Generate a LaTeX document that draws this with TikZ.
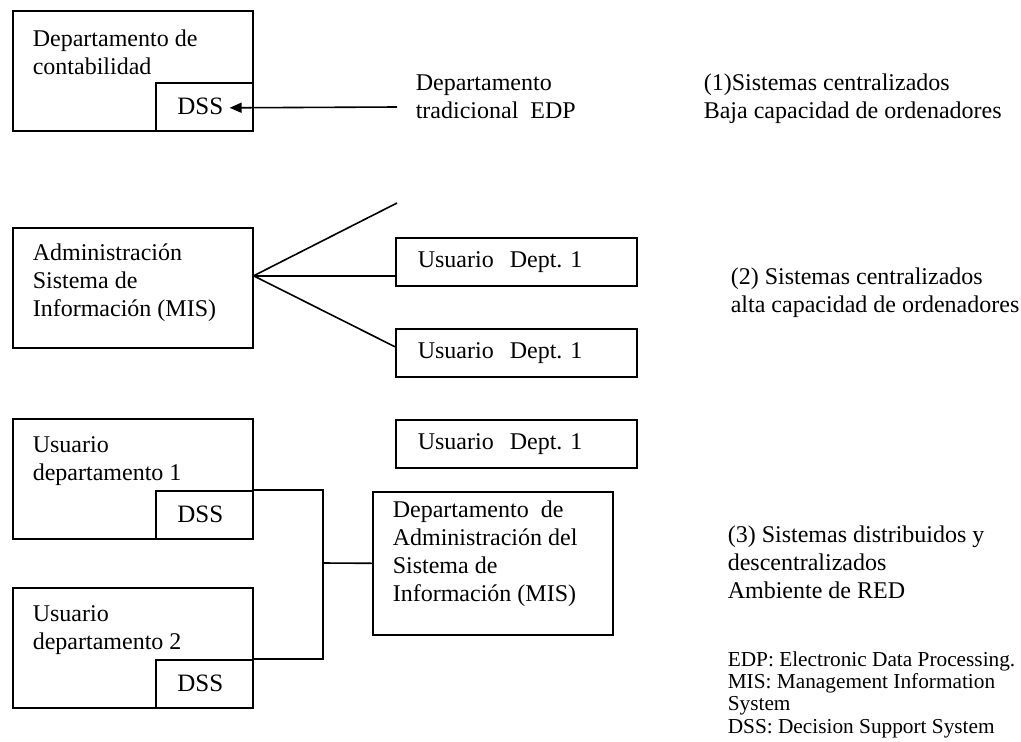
\documentclass[tikz,border=0pt]{standalone}
\usepackage{fontspec}
\setmainfont{Liberation Serif}
\usetikzlibrary{arrows.meta}
\frenchspacing
\begin{document}
\begin{tikzpicture}[x=1pt,y=-1pt,
  line width=1.6pt,
  every node/.style={inner sep=0pt},
  frame/.style={draw, minimum width=240pt, minimum height=120pt, anchor=north west},
  dssbox/.style={draw, minimum width=97pt, minimum height=48pt, anchor=north west,
    font=\fontsize{25}{28}\selectfont},
  ubox/.style={draw, anchor=north west, inner xsep=22pt, text width=197pt,
    minimum height=48pt, align=left, font=\fontsize{24}{28}\selectfont},
  % multi-line texts are placed by the baseline of their last line
  txt/.style={anchor=base west, align=left, font=\fontsize{24}{28}\selectfont},
  note/.style={anchor=base west, align=left, font=\fontsize{21.3}{22.3}\selectfont},
  tip/.style={-{Triangle[length=12pt,width=10pt]}}
]
\useasboundingbox (0,0) rectangle (1021,742);

% (1) centralised, low capacity
\node[frame] (acct) at (12,10) {};
\node[txt] (acctT) at (32,74) {Departamento de\\contabilidad};
\node[dssbox] (dss0) at (155,82) {DSS\kern8pt};
\node[txt] (edp) at (415,118) {Departamento\\tradicional\ \ EDP};
\coordinate (edpTail) at (397,107);
\draw[tip] (edpTail) -- ([xshift=-24pt,yshift=-1pt]dss0.east);
\node[txt] (s1) at (703,118) {(1)Sistemas centralizados\\Baja capacidad de ordenadores};

% (2) centralised, high capacity
\node[frame] (adm) at (12,227) {};
\node[txt] (admT) at (32,316) {Administración\\Sistema de\\Información (MIS)};
\node[ubox] (u1) at (395,237) {Usuario\ \ Dept.\ 1};
\node[ubox] (u2) at (395,328) {Usuario\ \ Dept.\ 1};
\node[ubox] (u3) at (395,419) {Usuario\ \ Dept.\ 1};
\coordinate (hub) at ([yshift=12pt]adm.east);
\coordinate (fanTop) at (397,203);
\draw (hub) -- (fanTop);
\draw (hub) -- (u1.west |- hub);
\draw (hub) -- ([yshift=6pt]u2.west);
\node[txt] (s2) at (730,312) {(2) Sistemas centralizados\\alta capacidad de ordenadores};

% (3) distributed network
\node[frame] (usr1) at (12,418) {};
\node[txt] (usr1T) at (32,480) {Usuario\\departamento 1};
\node[dssbox] (dss1) at (155,490) {DSS\kern8pt};
\node[frame] (usr2) at (12,587) {};
\node[txt] (usr2T) at (32,649) {Usuario\\departamento 2};
\node[dssbox] (dss2) at (155,659) {DSS\kern8pt};
\node[frame, minimum height=143pt] (mis) at (372,491) {};
\node[txt] (misT) at (392,601) {Departamento\ \ de\\Administración del\\Sistema de\\Información (MIS)};
\coordinate (bus) at (323,563);
\draw (dss1.north east) -| (bus);
\draw (dss2.north east) -| (bus);
\draw (bus) -- (mis.west);
\node[txt] (s3) at (727,598) {(3) Sistemas distribuidos y\\descentralizados\\Ambiente de RED};
\node[note] (gloss) at (727,733) {EDP: Electronic Data Processing.\\MIS: Management Information\\System\\DSS: Decision Support System};
\end{tikzpicture}
\end{document}
